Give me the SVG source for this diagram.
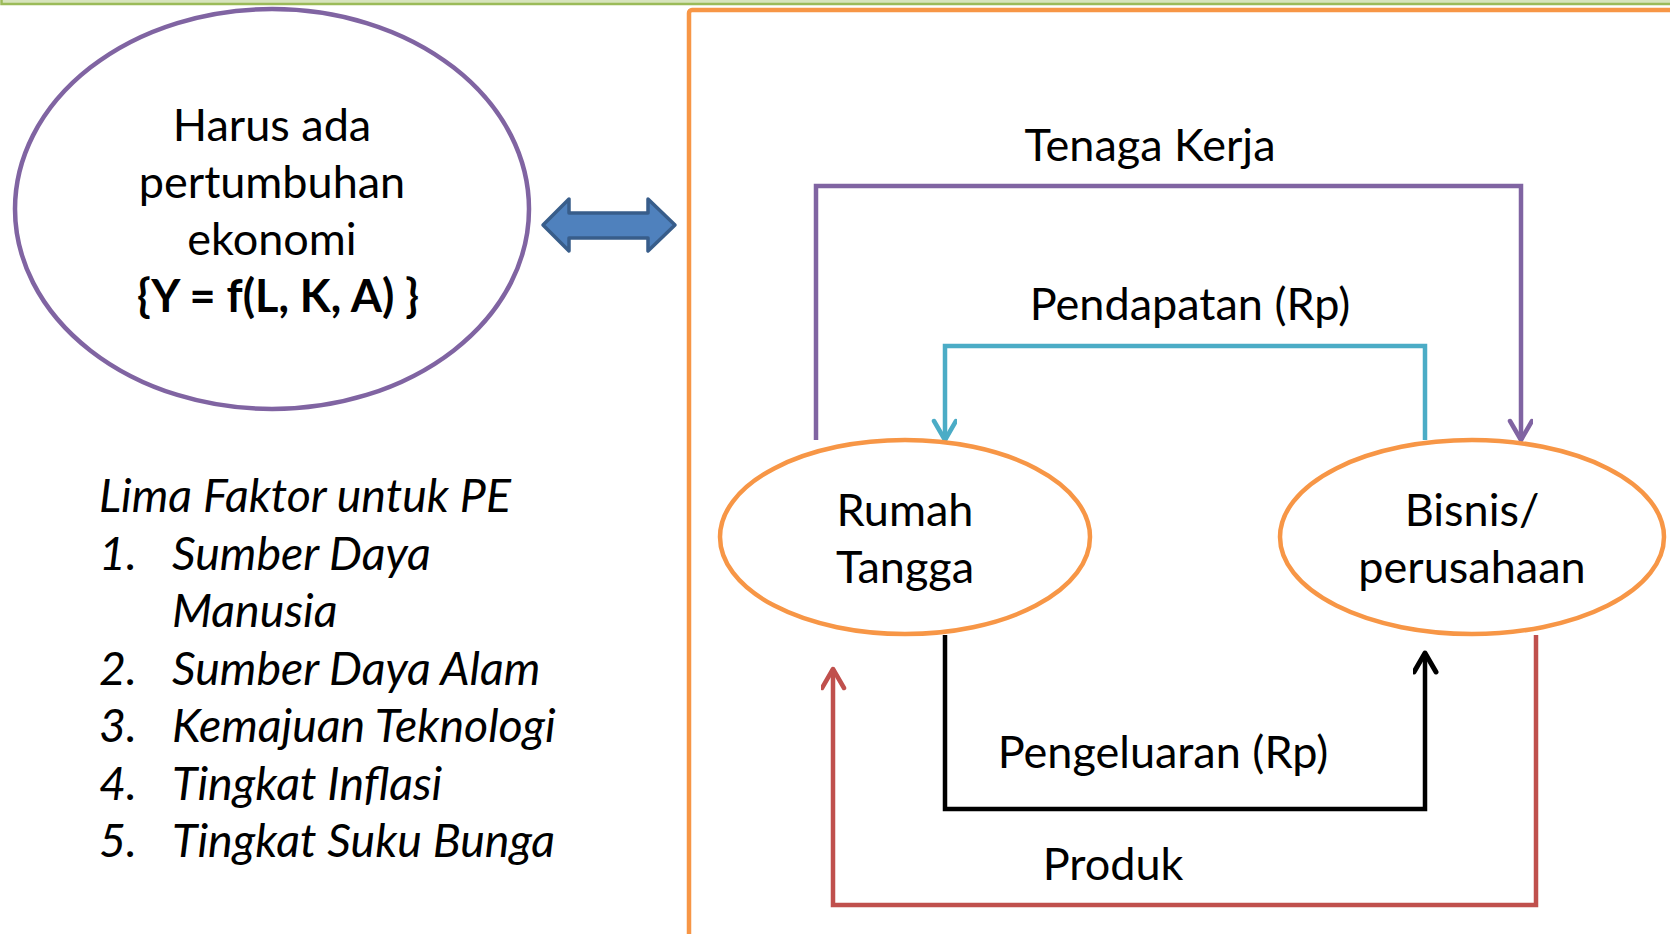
<svg xmlns="http://www.w3.org/2000/svg" width="1670" height="934" viewBox="0 0 1670 934">
<style>
  .t { font-family: Lato, "Open Sans", sans-serif; font-size: 45px; fill: #000; }
  .c { text-anchor: middle; }
  .b { font-weight: bold; }
  .i { font-style: italic; font-size: 46.5px; }
  .conn { fill: none; stroke-width: 4.5; stroke-linejoin: miter; }
</style>
<defs>
  <marker id="mPurple" markerUnits="userSpaceOnUse" markerWidth="30" markerHeight="30" refX="22" refY="12" orient="auto">
    <path d="M3,1 L22,12 L3,23" fill="none" stroke="#8064A2" stroke-width="4.5" stroke-linejoin="round" stroke-linecap="round"/>
  </marker>
  <marker id="mCyan" markerUnits="userSpaceOnUse" markerWidth="30" markerHeight="30" refX="22" refY="12" orient="auto">
    <path d="M3,1 L22,12 L3,23" fill="none" stroke="#4BACC6" stroke-width="4.5" stroke-linejoin="round" stroke-linecap="round"/>
  </marker>
  <marker id="mBlack" markerUnits="userSpaceOnUse" markerWidth="30" markerHeight="30" refX="22" refY="12" orient="auto">
    <path d="M3,1 L22,12 L3,23" fill="none" stroke="#000" stroke-width="5" stroke-linejoin="round" stroke-linecap="round"/>
  </marker>
  <marker id="mRed" markerUnits="userSpaceOnUse" markerWidth="30" markerHeight="30" refX="22" refY="12" orient="auto">
    <path d="M3,1 L22,12 L3,23" fill="none" stroke="#C0504D" stroke-width="4.5" stroke-linejoin="round" stroke-linecap="round"/>
  </marker>
</defs>
<rect x="0" y="0" width="1670" height="934" fill="#fff"/>
<!-- top green band -->
<rect x="1.5" y="-20" width="1680" height="24" fill="#D7E4BD" stroke="#9BBB59" stroke-width="2.5"/>
<!-- orange frame -->
<rect x="689" y="10" width="1000" height="960" rx="3" fill="none" stroke="#F79646" stroke-width="4.5"/>

<g id="growth">
  <ellipse cx="272" cy="209" rx="257" ry="200" fill="#fff" stroke="#8064A2" stroke-width="4.5"/>
  <text class="t c" x="272" y="141">Harus ada</text>
  <text class="t c" x="272" y="198">pertumbuhan</text>
  <text class="t c" x="272" y="255">ekonomi</text>
  <text class="t c b" x="278" y="312">{Y = f(L, K, A) }</text>
</g>

<g id="double-arrow">
  <path d="M543,225 L569,199 L569,213 L648,213 L648,199 L675,225 L648,251 L648,238 L569,238 L569,251 Z" fill="#4F81BD" stroke="#385D8A" stroke-width="3.5" stroke-linejoin="round"/>
</g>

<g id="factors">
  <text class="t i" x="99" y="512">Lima Faktor untuk PE</text>
  <text class="t i" x="99" y="570">1.</text><text class="t i" x="172" y="570">Sumber Daya</text>
  <text class="t i" x="172" y="627">Manusia</text>
  <text class="t i" x="99" y="685">2.</text><text class="t i" x="172" y="685">Sumber Daya Alam</text>
  <text class="t i" x="99" y="742">3.</text><text class="t i" x="172" y="742">Kemajuan Teknologi</text>
  <text class="t i" x="99" y="800">4.</text><text class="t i" x="172" y="800">Tingkat Inflasi</text>
  <text class="t i" x="99" y="857">5.</text><text class="t i" x="172" y="857">Tingkat Suku Bunga</text>
</g>

<g id="connectors">
  <path class="conn" d="M816,440 V186 H1521 V440" stroke="#8064A2" marker-end="url(#mPurple)"/>
  <path class="conn" d="M1425,440 V346 H945 V440" stroke="#4BACC6" marker-end="url(#mCyan)"/>
  <path class="conn" d="M945,635 V809 H1425 V653" stroke="#000" stroke-width="5.5" marker-end="url(#mBlack)"/>
  <path class="conn" d="M1536,635 V905 H833 V669" stroke="#C0504D" marker-end="url(#mRed)"/>
  <text class="t c" x="1150" y="161">Tenaga Kerja</text>
  <text class="t c" x="1190" y="320">Pendapatan (Rp)</text>
  <text class="t c" x="1163" y="768">Pengeluaran (Rp)</text>
  <text class="t c" x="1113" y="880">Produk</text>
</g>

<g id="rumah-tangga">
  <ellipse cx="905" cy="537" rx="185" ry="97" fill="#fff" stroke="#F79646" stroke-width="4.5"/>
  <text class="t c" x="905" y="526">Rumah</text>
  <text class="t c" x="905" y="583">Tangga</text>
</g>

<g id="bisnis">
  <ellipse cx="1472" cy="537" rx="192" ry="97" fill="#fff" stroke="#F79646" stroke-width="4.5"/>
  <text class="t c" x="1472" y="526">Bisnis/</text>
  <text class="t c" x="1472" y="583">perusahaan</text>
</g>
</svg>
